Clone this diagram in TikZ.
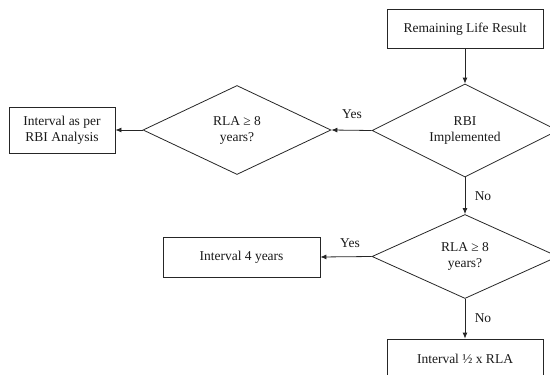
\documentclass[tikz,border=0pt]{standalone}
\usepackage{fontspec}
\setmainfont{Liberation Serif}
\usetikzlibrary{shapes.geometric,arrows.meta}
\tikzset{
  base/.style={draw=black!85, line width=0.8pt, font=\fontsize{13.5}{16}\selectfont, text=black!90, align=center, inner sep=0pt},
  procbox/.style={base, rectangle},
  decision/.style={base, diamond, aspect=2},
  lbl/.style={font=\fontsize{13.5}{16}\selectfont, text=black!90, inner sep=0pt},
  flow/.style={draw=black!85, line width=0.8pt, -{Latex[length=6pt,width=5pt]}}
}
\begin{document}
\begin{tikzpicture}[x=1pt,y=-1pt]
\useasboundingbox (0,0) rectangle (550,375);
\clip (0,0) rectangle (550,375);
\node[procbox, minimum width=156pt, minimum height=39pt] (start) at (465,29) {Remaining Life Result};
\node[decision, minimum width=186pt, minimum height=93pt] (d1) at (465,130.5) {RBI\\Implemented};
\node[decision, minimum width=188pt, minimum height=89pt] (d2) at (237,130) {RLA ≥ 8\\years?};
\node[procbox, minimum width=106pt, minimum height=46pt] (rbi) at (62,130) {Interval as per\\RBI Analysis};
\node[decision, minimum width=186pt, minimum height=84pt] (d3) at (465,256.5) {RLA ≥ 8\\years?};
\node[procbox, minimum width=157pt, minimum height=40pt] (four) at (241.5,257) {Interval 4 years};
\node[procbox, minimum width=156pt, minimum height=40pt] (half) at (465,359) {Interval ½ x RLA};
\draw[flow] (start) -- (d1);
\draw[flow] (d1.west) -- (d2.east);
\draw[flow] (d2.west) -- (rbi.east);
\draw[flow] (d1.south) -- (d3.north);
\draw[flow] (d3.west) -- (four.east);
\draw[flow] (d3.south) -- (half.north);
\node[lbl] (yes1) at (352,114) {Yes};
\node[lbl] (no1) at (483,196) {No};
\node[lbl] (yes2) at (350,243) {Yes};
\node[lbl] (no2) at (483,318) {No};
\end{tikzpicture}
\end{document}
